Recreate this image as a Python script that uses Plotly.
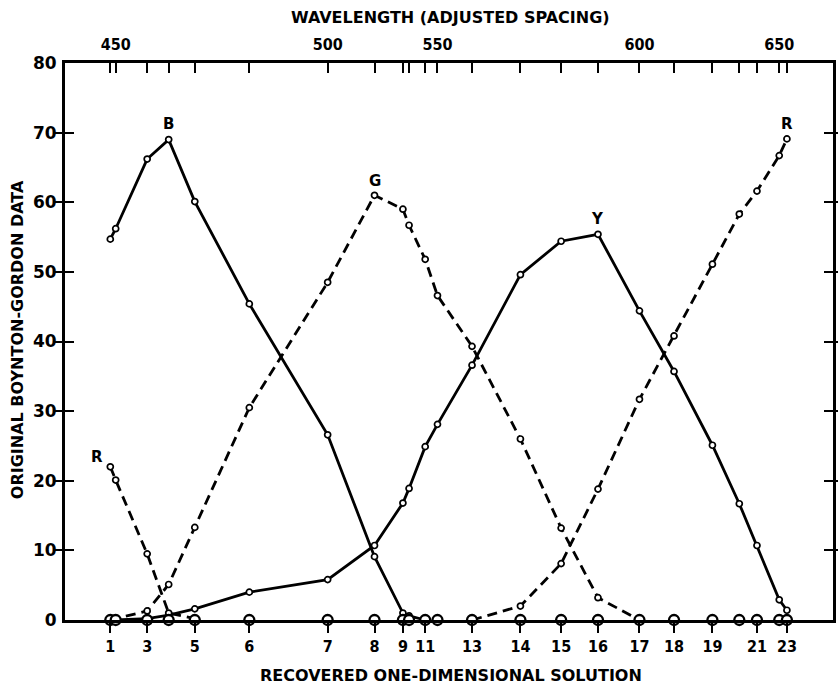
import plotly.graph_objects as go

# 23 stimuli (Boynton-Gordon colour naming), 440-660 nm in 10 nm steps
stimulus = list(range(1, 24))
wavelength_nm = list(range(440, 661, 10))

# recovered one-dimensional coordinate of each stimulus
solution = [5.9, 6.6, 10.7, 13.5, 16.9, 24.0, 34.2, 40.3, 44.0, 44.8, 46.9, 48.5,
            53.0, 59.3, 64.6, 69.4, 74.8, 79.3, 84.3, 87.8, 90.1, 93.0, 94.0]

# naming percentages (None = not plotted)
blue = [54.7, 56.2, 66.2, 69.0, 60.1, 45.4, 26.6, 9.1, 1.0, 0.6, 0,
        None, None, None, None, None, None, None, None, None, None, None, None]
green = [0, 0.2, 1.3, 5.1, 13.3, 30.5, 48.5, 61.0, 59.0, 56.7, 51.8, 46.6,
         39.3, 26.0, 13.2, 3.2, 0, None, None, None, None, None, None]
yellow = [None, 0, 0.2, 0.7, 1.6, 4.0, 5.8, 10.7, 16.8, 18.9, 24.9, 28.1,
          36.6, 49.6, 54.4, 55.4, 44.4, 35.7, 25.1, 16.7, 10.7, 2.9, 1.4]
red = [22.0, 20.1, 9.5, 1.0, 0.2, None, None, None, None, None, None, None,
       0, 2.0, 8.1, 18.8, 31.7, 40.8, 51.1, 58.3, 61.6, 66.7, 69.1]

labeled_stimuli = [1, 3, 5, 6, 7, 8, 9, 11, 13, 14, 15, 16, 17, 18, 19, 21, 23]
labeled_wavelengths = [450, 500, 550, 600, 650]
y_ticks = [0, 10, 20, 30, 40, 50, 60, 70, 80]

FONT = "DejaVu Sans"
FONT_NARROW = "DejaVu Sans Condensed"
INK = "black"

fig = go.Figure()


def curve(values, dash):
    return go.Scatter(
        x=solution, y=values, mode="lines+markers",
        line=dict(color=INK, width=2.8, dash=dash),
        marker=dict(symbol="circle", size=6, color="white",
                    line=dict(color=INK, width=1.7)),
        cliponaxis=False, showlegend=False, hoverinfo="skip",
    )


fig.add_trace(curve(blue, "solid"))
fig.add_trace(curve(green, "10px,6px"))
fig.add_trace(curve(yellow, "solid"))
fig.add_trace(curve(red, "10px,6px"))

# stimulus positions along the zero line
fig.add_trace(go.Scatter(
    x=solution, y=[0] * len(solution), mode="markers",
    marker=dict(symbol="circle", size=10, color="white",
                line=dict(color=INK, width=2.3)),
    cliponaxis=False, showlegend=False, hoverinfo="skip",
))

# carrier for the wavelength axis on top
fig.add_trace(go.Scatter(
    x=solution, y=[0] * len(solution), xaxis="x2", mode="markers",
    marker=dict(opacity=0), showlegend=False, hoverinfo="skip",
))

bottom_vals = [solution[s - 1] for s in labeled_stimuli]
top_text = [str(w) if w in labeled_wavelengths else "" for w in wavelength_nm]

fig.update_layout(
    width=838, height=693,
    margin=dict(l=65, r=2, t=63, b=73),
    paper_bgcolor="white", plot_bgcolor="white",
    xaxis=dict(
        range=[0, 100], showgrid=False, zeroline=False,
        showline=True, linecolor=INK, linewidth=2.8, mirror=True,
        tickmode="array", tickvals=bottom_vals,
        ticktext=[str(s) for s in labeled_stimuli],
        ticks="outside", ticklen=10, tickwidth=2.2, tickcolor=INK,
        tickfont=dict(family=FONT_NARROW, size=16, color=INK, weight="bold"),
    ),
    xaxis2=dict(
        overlaying="x", side="top", anchor="y", range=[0, 100],
        showgrid=False, zeroline=False, showline=False,
        tickmode="array", tickvals=solution, ticktext=top_text,
        ticks="inside", ticklen=10, tickwidth=2.2, tickcolor=INK,
        ticklabelstandoff=9,
        tickfont=dict(family=FONT_NARROW, size=16, color=INK, weight="bold"),
    ),
    yaxis=dict(
        range=[0, 80], showgrid=False, zeroline=False,
        showline=True, linecolor=INK, linewidth=2.8, mirror="allticks",
        tickmode="array", tickvals=y_ticks,
        ticks="inside", ticklen=9, tickwidth=2.4, tickcolor=INK,
        ticklabelstandoff=2,
        tickfont=dict(family=FONT, size=17, color=INK, weight="bold"),
    ),
)

title_font = dict(family=FONT, size=16, color=INK, weight="bold")
fig.add_annotation(text="WAVELENGTH (ADJUSTED SPACING)", xref="paper", yref="paper",
                   x=0.502, y=1.081, xanchor="center", yanchor="middle",
                   showarrow=False, font=title_font)
fig.add_annotation(text="RECOVERED ONE-DIMENSIONAL SOLUTION", xref="paper", yref="paper",
                   x=0.502, y=-0.099, xanchor="center", yanchor="middle",
                   showarrow=False, font=title_font)
fig.add_annotation(text="ORIGINAL BOYNTON-GORDON DATA", xref="paper", yref="paper",
                   x=-0.062, y=0.503, xanchor="center", yanchor="middle",
                   textangle=-90, showarrow=False, font=title_font)

# curve labels
label_font = dict(family=FONT, size=15, color=INK, weight="bold")
fig.add_annotation(text="B", x=solution[3], y=blue[3], yshift=16, showarrow=False, font=label_font)
fig.add_annotation(text="G", x=solution[7], y=green[7], yshift=14, showarrow=False, font=label_font)
fig.add_annotation(text="Y", x=solution[15], y=yellow[15], yshift=15, showarrow=False, font=label_font)
fig.add_annotation(text="R", x=solution[0], y=red[0], xshift=-13, yshift=10, showarrow=False, font=label_font)
fig.add_annotation(text="R", x=solution[22], y=red[22], yshift=15, showarrow=False, font=label_font)

fig.write_html("out.html")
